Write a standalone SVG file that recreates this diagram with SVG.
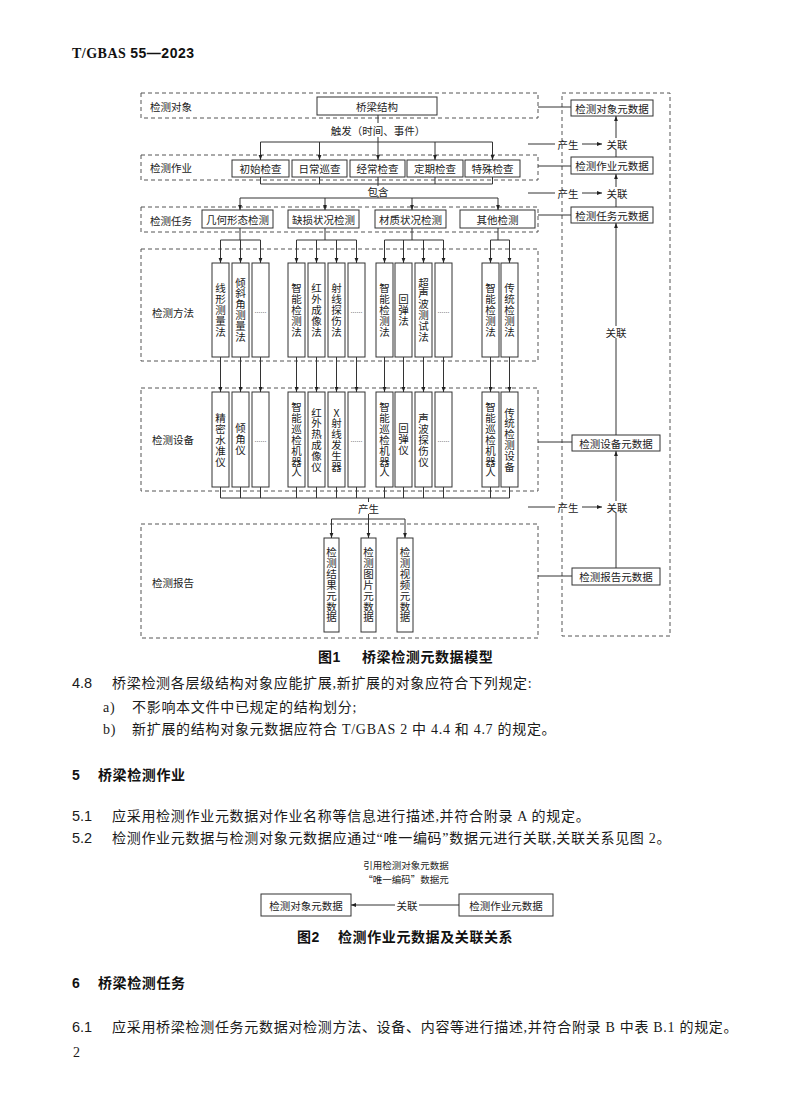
<svg xmlns="http://www.w3.org/2000/svg" width="790" height="1111" viewBox="0 0 790 1111">
<style>
.bg{fill:#fff}
.dash{fill:none;stroke:#555;stroke-width:1;stroke-dasharray:4 3}
.box{fill:#fff;stroke:#333;stroke-width:1}
.ln{fill:none;stroke:#333;stroke-width:1}
.ar{fill:none;stroke:#333;stroke-width:1;marker-end:url(#ah)}
.t{font-family:"Noto Sans CJK SC","Liberation Sans",sans-serif;font-size:10.5px;fill:#222;dominant-baseline:central}
.c{text-anchor:middle}
.sm{font-size:9.5px}
.vt{font-family:"Noto Sans CJK SC","Liberation Serif",sans-serif;font-size:10.5px;fill:#222;writing-mode:vertical-rl;text-orientation:upright;letter-spacing:0.4px;text-anchor:middle}
.dots{font-family:"Liberation Serif",serif;font-size:6px;fill:#222;text-anchor:middle;dominant-baseline:central}
.body{font-family:"Liberation Serif","Noto Sans CJK SC",serif;font-size:14px;letter-spacing:0.7px;fill:#1a1a1a}
.num{font-family:"Liberation Sans","Noto Sans CJK SC",sans-serif;font-size:14.5px;fill:#1a1a1a}
.hd{font-family:"Liberation Sans","Noto Sans CJK SC",sans-serif;font-size:14px;font-weight:bold;letter-spacing:0.6px;fill:#111}
</style>
<defs>
<marker id="ah" viewBox="0 0 10 10" refX="10" refY="5" markerWidth="5" markerHeight="5" orient="auto" markerUnits="userSpaceOnUse">
<path d="M0,1.2 L10,5 L0,8.8 z" fill="#222"/>
</marker>
</defs>
<rect class="bg" x="0" y="0" width="790" height="1111"/>

<!-- header -->
<text x="72" y="58" font-size="14" font-weight="bold" fill="#111" textLength="122"><tspan font-family="Liberation Serif, serif">T/GBAS </tspan><tspan font-family="Liberation Sans, sans-serif">55—2023</tspan></text>

<!-- layers (dashed containers) -->
<g id="layer-object"><rect class="dash" x="141" y="93" width="397" height="25"/><text class="t" x="150" y="106">检测对象</text></g>
<g id="layer-work"><rect class="dash" x="141" y="155" width="397" height="25"/><text class="t" x="150" y="167">检测作业</text></g>
<g id="layer-task"><rect class="dash" x="141" y="207" width="397" height="25"/><text class="t" x="150" y="220">检测任务</text></g>
<g id="layer-method"><rect class="dash" x="141" y="249" width="397" height="112"/><text class="t" x="152" y="312">检测方法</text></g>
<g id="layer-device"><rect class="dash" x="141" y="388" width="397" height="103"/><text class="t" x="152" y="439">检测设备</text></g>
<g id="layer-report"><rect class="dash" x="141" y="524" width="397" height="114"/><text class="t" x="152" y="582">检测报告</text></g>
<g id="layer-meta"><rect class="dash" x="562" y="93" width="108" height="543"/></g>

<!-- connectors -->
<g id="connectors">
<path class="ln" d="M378,115V123"/>
<path class="ar" d="M378,137V160"/>
<path class="ln" d="M260.5,142H492.5"/>
<path class="ar" d="M260.5,142V160"/>
<path class="ar" d="M319.5,142V160"/>
<path class="ar" d="M435,142V160"/>
<path class="ar" d="M492.5,142V160"/>
<path class="ln" d="M260.5,177V184M319.5,177V184M378,177V186M435,177V184M492.5,177V184M260.5,184H492.5"/>
<path class="ln" d="M378,196V198M240,198H498"/>
<path class="ar" d="M240,198V210"/>
<path class="ar" d="M325,198V210"/>
<path class="ar" d="M412,198V210"/>
<path class="ar" d="M498,198V210"/>
<path class="ln" d="M240,228V240M325,228V240M412,228V240M498,228V240M220.5,240H260.5M296.5,240H356.5M384.5,240H443.5M490.5,240H509.5"/>
<path class="ar" d="M220.5,240V263"/><path class="ar" d="M240.5,240V263"/><path class="ar" d="M260.5,240V263"/>
<path class="ar" d="M296.5,240V263"/><path class="ar" d="M316.5,240V263"/><path class="ar" d="M336.5,240V263"/><path class="ar" d="M356.5,240V263"/>
<path class="ar" d="M384.5,240V263"/><path class="ar" d="M403.5,240V263"/><path class="ar" d="M423.5,240V263"/><path class="ar" d="M443.5,240V263"/>
<path class="ar" d="M490.5,240V263"/><path class="ar" d="M509.5,240V263"/>
<path class="ar" d="M220.5,357V392"/><path class="ar" d="M240.5,357V392"/><path class="ar" d="M260.5,357V392"/>
<path class="ar" d="M296.5,357V392"/><path class="ar" d="M316.5,357V392"/><path class="ar" d="M336.5,357V392"/><path class="ar" d="M356.5,357V392"/>
<path class="ar" d="M384.5,357V392"/><path class="ar" d="M403.5,357V392"/><path class="ar" d="M423.5,357V392"/><path class="ar" d="M443.5,357V392"/>
<path class="ar" d="M490.5,357V392"/><path class="ar" d="M509.5,357V392"/>
<path class="ln" d="M220.5,487V498M240.5,487V498M260.5,487V498M296.5,487V498M316.5,487V498M336.5,487V498M356.5,487V498M384.5,487V498M403.5,487V498M423.5,487V498M443.5,487V498M490.5,487V498M509.5,487V498M220.5,498H509.5"/>
<path class="ln" d="M368.5,498V502M368.5,514V519M331.5,519H405"/>
<path class="ar" d="M331.5,519V538"/><path class="ar" d="M368.5,519V538"/><path class="ar" d="M405,519V538"/>
<!-- right side -->
<path class="ln" d="M538,107H571M538,166H571M538,215H571M538,442H572M538,576H572"/>
<path class="ln" d="M528,144H555M528,193H555M528,507H555"/>
<path class="ar" d="M582,144H602"/><path class="ar" d="M582,193H602"/><path class="ar" d="M582,507H602"/>
<path class="ln" d="M616,157V150"/><path class="ar" d="M616,138V116"/>
<path class="ln" d="M616,207V199"/><path class="ar" d="M616,187V174"/>
<path class="ln" d="M616,435V338"/><path class="ar" d="M616,326V223"/>
<path class="ln" d="M616,568V513"/><path class="ar" d="M616,501V451"/>
<text class="t c" x="378" y="130">触发（时间、事件）</text>
<text class="t c" x="378" y="191">包含</text>
<text class="t c" x="368.5" y="508">产生</text>
<text class="t c" x="568" y="144">产生</text><text class="t c" x="617" y="144">关联</text>
<text class="t c" x="568" y="193">产生</text><text class="t c" x="617" y="193">关联</text>
<text class="t c" x="568" y="507">产生</text><text class="t c" x="617" y="507">关联</text>
<text class="t c" x="616" y="332">关联</text>
</g>

<!-- nodes -->
<g id="n-bridge"><rect class="box" x="317" y="97" width="120" height="18"/><text class="t c" x="377" y="106">桥梁结构</text></g>
<g id="n-w1"><rect class="box" x="232" y="160" width="57" height="17"/><text class="t c" x="260.5" y="168.5">初始检查</text></g>
<g id="n-w2"><rect class="box" x="292" y="160" width="55" height="17"/><text class="t c" x="319.5" y="168.5">日常巡查</text></g>
<g id="n-w3"><rect class="box" x="350" y="160" width="55" height="17"/><text class="t c" x="377.5" y="168.5">经常检查</text></g>
<g id="n-w4"><rect class="box" x="407" y="160" width="56" height="17"/><text class="t c" x="435" y="168.5">定期检查</text></g>
<g id="n-w5"><rect class="box" x="465" y="160" width="55" height="17"/><text class="t c" x="492.5" y="168.5">特殊检查</text></g>
<g id="n-t1"><rect class="box" x="202" y="210" width="71" height="18"/><text class="t c" x="237.5" y="219">几何形态检测</text></g>
<g id="n-t2"><rect class="box" x="288" y="210" width="71" height="18"/><text class="t c" x="323.5" y="219">缺损状况检测</text></g>
<g id="n-t3"><rect class="box" x="375" y="210" width="71" height="18"/><text class="t c" x="410.5" y="219">材质状况检测</text></g>
<g id="n-t4"><rect class="box" x="460" y="210" width="75" height="18"/><text class="t c" x="497.5" y="219">其他检测</text></g>

<g id="n-m1"><rect class="box" x="212" y="263" width="17" height="94"/><text class="vt" x="220.5" y="310">线形测量法</text></g>
<g id="n-m2"><rect class="box" x="232" y="263" width="17" height="94"/><text class="vt" x="240.5" y="310">倾斜角测量法</text></g>
<g id="n-m3"><rect class="box" x="252" y="263" width="17" height="94"/><text class="dots" x="260.5" y="311">……</text></g>
<g id="n-m4"><rect class="box" x="288" y="263" width="17" height="94"/><text class="vt" x="296.5" y="310">智能检测法</text></g>
<g id="n-m5"><rect class="box" x="308" y="263" width="17" height="94"/><text class="vt" x="316.5" y="310">红外成像法</text></g>
<g id="n-m6"><rect class="box" x="328" y="263" width="17" height="94"/><text class="vt" x="336.5" y="310">射线探伤法</text></g>
<g id="n-m7"><rect class="box" x="348" y="263" width="17" height="94"/><text class="dots" x="356.5" y="311">……</text></g>
<g id="n-m8"><rect class="box" x="376" y="263" width="17" height="94"/><text class="vt" x="384.5" y="310">智能检测法</text></g>
<g id="n-m9"><rect class="box" x="395" y="263" width="17" height="94"/><text class="vt" x="403.5" y="310">回弹法</text></g>
<g id="n-m10"><rect class="box" x="415" y="263" width="17" height="94"/><text class="vt" x="423.5" y="310">超声波测试法</text></g>
<g id="n-m11"><rect class="box" x="435" y="263" width="17" height="94"/><text class="dots" x="443.5" y="311">……</text></g>
<g id="n-m12"><rect class="box" x="482" y="263" width="17" height="94"/><text class="vt" x="490.5" y="310">智能检测法</text></g>
<g id="n-m13"><rect class="box" x="501" y="263" width="17" height="94"/><text class="vt" x="509.5" y="310">传统检测法</text></g>

<g id="n-d1"><rect class="box" x="212" y="392" width="17" height="95"/><text class="vt" x="220.5" y="440">精密水准仪</text></g>
<g id="n-d2"><rect class="box" x="232" y="392" width="17" height="95"/><text class="vt" x="240.5" y="439">倾角仪</text></g>
<g id="n-d3"><rect class="box" x="252" y="392" width="17" height="95"/><text class="dots" x="260.5" y="440">……</text></g>
<g id="n-d4"><rect class="box" x="288" y="392" width="17" height="95"/><text class="vt" x="296.5" y="440">智能巡检机器人</text></g>
<g id="n-d5"><rect class="box" x="308" y="392" width="17" height="95"/><text class="vt" x="316.5" y="440">红外热成像仪</text></g>
<g id="n-d6"><rect class="box" x="328" y="392" width="17" height="95"/><text class="vt" x="336.5" y="440">X射线发生器</text></g>
<g id="n-d7"><rect class="box" x="348" y="392" width="17" height="95"/><text class="dots" x="356.5" y="440">……</text></g>
<g id="n-d8"><rect class="box" x="376" y="392" width="17" height="95"/><text class="vt" x="384.5" y="440">智能巡检机器人</text></g>
<g id="n-d9"><rect class="box" x="395" y="392" width="17" height="95"/><text class="vt" x="403.5" y="439">回弹仪</text></g>
<g id="n-d10"><rect class="box" x="415" y="392" width="17" height="95"/><text class="vt" x="423.5" y="440">声波探伤仪</text></g>
<g id="n-d11"><rect class="box" x="435" y="392" width="17" height="95"/><text class="dots" x="443.5" y="440">……</text></g>
<g id="n-d12"><rect class="box" x="482" y="392" width="17" height="95"/><text class="vt" x="490.5" y="440">智能巡检机器人</text></g>
<g id="n-d13"><rect class="box" x="501" y="392" width="17" height="95"/><text class="vt" x="509.5" y="440">传统检测设备</text></g>

<g id="n-r1"><rect class="box" x="324" y="538" width="15" height="94"/><text class="vt" x="331.5" y="585">检测结果元数据</text></g>
<g id="n-r2"><rect class="box" x="361" y="538" width="15" height="94"/><text class="vt" x="368.5" y="585">检测图片元数据</text></g>
<g id="n-r3"><rect class="box" x="397" y="538" width="16" height="94"/><text class="vt" x="405" y="585">检测视频元数据</text></g>

<g id="n-meta-object"><rect class="box" x="571" y="100" width="82" height="16"/><text class="t c" x="612" y="108">检测对象元数据</text></g>
<g id="n-meta-work"><rect class="box" x="571" y="157" width="82" height="17"/><text class="t c" x="612" y="165.5">检测作业元数据</text></g>
<g id="n-meta-task"><rect class="box" x="571" y="207" width="82" height="16"/><text class="t c" x="612" y="215">检测任务元数据</text></g>
<g id="n-meta-device"><rect class="box" x="572" y="435" width="88" height="16"/><text class="t c" x="616" y="443">检测设备元数据</text></g>
<g id="n-meta-report"><rect class="box" x="572" y="568" width="88" height="17"/><text class="t c" x="616" y="576.5">检测报告元数据</text></g>

<!-- figure 1 caption -->
<text class="hd" x="318" y="662">图1</text>
<text class="hd" x="362" y="662">桥梁检测元数据模型</text>

<!-- body text -->
<text class="num" x="72" y="688">4.8</text>
<text class="body" x="112" y="688">桥梁检测各层级结构对象应能扩展,新扩展的对象应符合下列规定:</text>
<text class="body" x="103" y="712">a)</text>
<text class="body" x="132" y="712">不影响本文件中已规定的结构划分;</text>
<text class="body" x="103" y="734">b)</text>
<text class="body" x="132" y="734">新扩展的结构对象元数据应符合 T/GBAS 2 中 4.4 和 4.7 的规定。</text>

<text class="hd" x="72" y="780">5</text>
<text class="hd" x="98" y="780">桥梁检测作业</text>
<text class="num" x="72" y="821">5.1</text>
<text class="body" x="112" y="821">应采用检测作业元数据对作业名称等信息进行描述,并符合附录 A 的规定。</text>
<text class="num" x="72" y="843">5.2</text>
<text class="body" x="112" y="843">检测作业元数据与检测对象元数据应通过“唯一编码”数据元进行关联,关联关系见图 2。</text>

<!-- figure 2 -->
<g id="fig2-note"><text class="t c sm" x="406" y="865">引用检测对象元数据</text><text class="t c sm" x="406" y="879">“唯一编码”数据元</text></g>
<g id="fig2-object"><rect class="box" x="261" y="894" width="90" height="22"/><text class="t c" x="306" y="905">检测对象元数据</text></g>
<g id="fig2-work"><rect class="box" x="459" y="894" width="94" height="22"/><text class="t c" x="506" y="905">检测作业元数据</text></g>
<g id="fig2-connectors"><path class="ln" d="M459,905H419"/><path class="ar" d="M395,905H351"/><text class="t c" x="407" y="905">关联</text></g>
<text class="hd" x="297" y="942">图2</text>
<text class="hd" x="338" y="942">检测作业元数据及关联关系</text>

<text class="hd" x="72" y="988">6</text>
<text class="hd" x="98" y="988">桥梁检测任务</text>
<text class="num" x="72" y="1032">6.1</text>
<text class="body" x="112" y="1032">应采用桥梁检测任务元数据对检测方法、设备、内容等进行描述,并符合附录 B 中表 B.1 的规定。</text>
<text class="body" x="73" y="1057">2</text>
</svg>
